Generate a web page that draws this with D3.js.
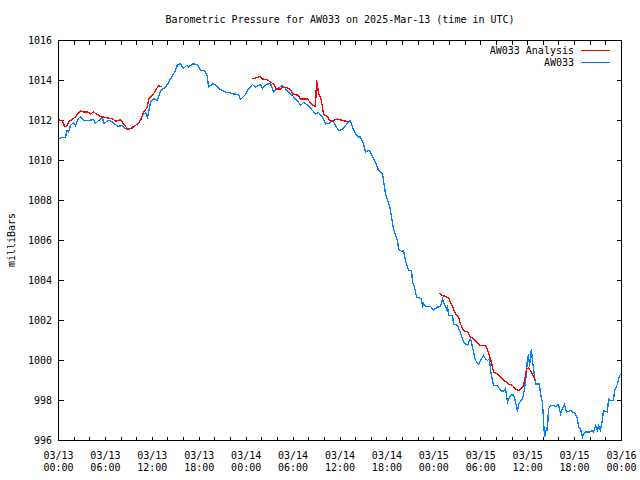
<!DOCTYPE html>
<html><head><meta charset="utf-8">
<script src="https://cdn.jsdelivr.net/npm/d3@7"></script>
<style>
body{margin:0;background:#fff}
svg{display:block}
text{font-family:"DejaVu Sans Mono",monospace;font-size:10px;fill:#000}
</style>
</head><body>
<svg id="chart" width="640" height="480"></svg>
<script>
const chartTitle = "Barometric Pressure for AW033 on 2025-Mar-13 (time in UTC)";
const yAxisLabel = "milliBars";
const seriesNames = ["AW033 Analysis", "AW033"];
const seriesColors = ["#ff0000", "#0080ff"];
const yTicks = [996, 998, 1000, 1002, 1004, 1006, 1008, 1010, 1012, 1014, 1016];
const xTickHours = [0, 6, 12, 18, 24, 30, 36, 42, 48, 54, 60, 66, 72];
const xTickDays = ["03/13","03/13","03/13","03/13","03/14","03/14","03/14","03/14","03/15","03/15","03/15","03/15","03/16"];
const xTickTimes = ["00:00","06:00","12:00","18:00","00:00","06:00","12:00","18:00","00:00","06:00","12:00","18:00","00:00"];

// hours since 2025-03-13 00:00 UTC
const stationHours = [0,0.26,0.9,1.11,1.28,1.53,1.92,2.17,2.56,2.81,
3.2,3.84,4.48,4.73,5.12,5.63,5.76,6.39,6.91,7.03,
7.67,8.06,8.57,8.82,9.21,9.59,10.23,10.74,11.13,11.38,
11.77,12.15,12.66,13.05,13.69,14.07,14.58,14.96,15.22,15.6,
15.99,16.37,16.63,17.14,17.78,18.16,18.67,19.06,19.18,19.7,
20.08,20.46,20.97,21.36,21.74,22.38,23.02,23.28,23.92,24.3,
24.81,25.19,25.83,26.09,26.47,27.11,27.5,28.01,28.65,29.03,
29.41,29.93,30.31,30.69,30.95,31.33,31.97,32.48,32.87,33.25,
33.76,34.15,34.53,35.04,35.43,35.81,36.32,36.71,37.09,37.34,
37.6,37.98,38.37,38.62,39.01,39.26,39.65,39.9,40.29,40.54,
40.93,41.44,41.57,41.82,42.08,42.33,42.59,42.84,43.1,43.36,
43.48,43.87,44.12,44.38,44.76,45.15,45.27,45.53,45.79,46.3,
46.43,46.56,46.68,46.94,47.58,47.96,48.47,48.86,49.11,49.24,
49.62,49.75,49.88,50.39,50.52,51.03,51.29,51.67,51.8,52.31,
52.44,52.7,52.95,53.08,53.33,53.72,53.97,54.36,54.61,54.87,
55.12,55.25,55.63,56.14,56.52,56.91,57.16,57.42,57.81,58.19,
58.45,58.7,58.83,59.34,59.6,59.85,59.98,60.11,60.24,60.36,
60.49,60.62,60.75,61.0,61.51,61.64,61.9,62.03,62.15,62.41,
62.53,62.66,62.92,63.3,63.56,63.94,64.2,64.45,64.71,64.97,
65.48,66.12,66.37,66.5,66.76,67.01,67.14,67.4,67.91,68.29,
68.42,68.68,68.93,69.06,69.31,69.57,69.7,70.21,70.34,70.59,
70.98,71.1,71.49,71.74,72];
const stationValues = [1011.1,1011.13,1011.17,1011.5,1011.42,1011.75,1011.9,1011.75,1012.1,1012.2,
1012.0,1012.0,1012.05,1011.85,1012.0,1012.15,1011.85,1012.0,1011.95,1011.85,
1011.7,1011.75,1011.6,1011.55,1011.6,1011.7,1011.85,1012.25,1012.4,1012.15,
1012.9,1013.1,1013.0,1013.5,1013.67,1013.9,1014.25,1014.5,1014.8,1014.83,
1014.6,1014.75,1014.67,1014.83,1014.8,1014.5,1014.5,1014.17,1013.67,1013.83,
1013.8,1013.6,1013.5,1013.42,1013.4,1013.33,1013.3,1013.05,1013.3,1013.58,
1013.8,1013.67,1013.8,1013.6,1013.8,1013.85,1013.42,1013.6,1013.75,1013.6,
1013.4,1013.25,1013.08,1012.92,1012.75,1012.9,1012.75,1012.5,1012.33,1012.4,
1012.17,1011.83,1011.85,1012.0,1011.75,1011.5,1011.55,1011.75,1011.92,1012.0,
1011.67,1011.33,1011.17,1011.17,1010.83,1010.42,1010.5,1010.42,1010.1,1009.92,
1009.5,1009.33,1009.0,1008.33,1008.0,1007.75,1007.17,1006.58,1006.25,1006.0,
1005.58,1005.45,1005.5,1005.0,1004.5,1004.5,1003.92,1003.67,1003.17,1003.1,
1003.08,1002.63,1002.87,1002.7,1002.7,1002.53,1002.67,1002.7,1003.08,1002.92,
1002.58,1002.75,1002.25,1002.25,1001.83,1001.75,1001.5,1001.08,1000.92,1000.75,
1000.9,1001.08,1000.67,1000.42,1000.0,999.83,1000.0,1000.25,1000.08,1000.0,
1000.1,999.5,998.75,998.75,998.5,998.45,998.6,997.92,998.25,998.3,
997.92,997.42,997.83,998.08,998.58,999.42,1000.17,1000.25,999.7,1000.3,
1000.58,999.9,999.6,998.83,998.83,998.33,997.9,997.0,996.17,996.6,
996.5,997.58,997.75,997.75,997.7,997.8,997.33,997.6,997.8,997.42,
997.5,997.33,997.1,996.67,996.58,996.17,996.3,996.42,996.42,996.5,
996.42,996.75,996.5,996.75,996.5,997.08,997.5,997.42,998.08,998.0,
998.0,998.5,998.83,999.25,999.33];

// analysis series, null = no analysis
const analysisHours = [0,0.51,0.77,1.02,1.28,1.79,2.17,2.43,2.81,3.2,3.71,4.09,4.48,4.99,5.37,6.27,6.91,7.29,7.93,8.31,8.82,9.46,10.1,10.49,10.87,11.38,11.51,12.02,12.41,12.79,13.17,
19,
24.81,25.19,25.71,26.09,26.73,27.11,27.5,27.88,28.39,28.65,29.29,29.67,29.93,30.31,30.69,30.95,31.84,32.23,32.61,32.87,33.0,33.12,33.25,33.51,33.76,33.89,34.4,34.79,35.17,35.68,36.06,36.71,37.09,
43,
48.73,49.11,49.49,49.88,50.13,50.52,50.77,51.16,51.41,51.8,52.31,52.7,53.08,53.59,53.97,54.61,54.87,55.25,55.51,55.63,56.14,56.52,56.91,57.55,58.06,58.45,58.83,59.08,59.47,59.6,59.85,60.11,60.49,60.75,61.0];
const analysisValues = [1012.03,1012.0,1011.7,1011.7,1011.92,1012.08,1012.17,1012.33,1012.47,1012.42,1012.43,1012.33,1012.42,1012.3,1012.2,1012.13,1012.08,1011.97,1012.03,1011.83,1011.58,1011.63,1011.83,1012.0,1012.42,1012.67,1013.08,1013.25,1013.5,1013.75,1013.67,
null,
1014.08,1014.13,1014.2,1014.08,1014.03,1013.92,1013.83,1013.58,1013.58,1013.67,1013.63,1013.53,1013.33,1013.3,1013.25,1013.08,1013.08,1012.87,1012.75,1012.7,1014.0,1013.83,1013.33,1013.17,1012.67,1012.33,1012.17,1011.97,1012.0,1012.08,1012.03,1011.97,1011.92,
null,
1003.37,1003.25,1003.2,1003.13,1002.92,1002.58,1002.33,1002.17,1001.83,1001.5,1001.42,1001.17,1001.08,1000.87,1000.75,1000.75,1000.53,1000.08,999.67,999.42,999.33,999.2,999.03,998.83,998.75,998.58,998.5,998.55,998.75,999.0,999.58,999.63,999.42,999.17,999.0];

const svg = d3.select("#chart");
const L = 58.5, R = 621.5, T = 40.5, B = 440.5;
const x = d3.scaleLinear().domain([0, 72]).range([L, R]);
const y = d3.scaleLinear().domain([996, 1016]).range([B, T]);

svg.append("defs").append("clipPath").attr("id", "plotclip")
  .append("rect").attr("x", L).attr("y", T - 1).attr("width", R - L).attr("height", B - T + 1);

// title
svg.append("text").attr("x", (L + R) / 2).attr("y", 23).attr("text-anchor", "middle").text(chartTitle);
// y label
svg.append("text").attr("transform", "translate(15,240) rotate(-90)").attr("text-anchor", "middle").text(yAxisLabel);

// ticks
const tickG = svg.append("g").attr("stroke", "#000").attr("stroke-width", 1).attr("shape-rendering", "crispEdges");
d3.range(0, 73, 2).forEach(h => {
  tickG.append("line").attr("x1", x(h)).attr("x2", x(h)).attr("y1", B).attr("y2", B - 4);
  tickG.append("line").attr("x1", x(h)).attr("x2", x(h)).attr("y1", T).attr("y2", T + 4);
});
yTicks.forEach(v => {
  tickG.append("line").attr("x1", L).attr("x2", L + 5).attr("y1", y(v)).attr("y2", y(v));
  tickG.append("line").attr("x1", R).attr("x2", R - 5).attr("y1", y(v)).attr("y2", y(v));
});

// y tick labels
svg.append("g").selectAll("text").data(yTicks).join("text")
  .attr("x", 52).attr("y", d => y(d)).attr("dy", "0.35em").attr("text-anchor", "end")
  .text(d => d);

// x tick labels
const xl = svg.append("g").selectAll("g").data(xTickHours).join("g");
xl.append("text").attr("x", d => x(d)).attr("y", 458.5).attr("text-anchor", "middle").text((d, i) => xTickDays[i]);
xl.append("text").attr("x", d => x(d)).attr("y", 470.5).attr("text-anchor", "middle").text((d, i) => xTickTimes[i]);

// lines
const line = d3.line().defined(d => d[1] !== null).x(d => x(d[0])).y(d => y(d[1]));
const plot = svg.append("g").attr("clip-path", "url(#plotclip)");
plot.append("path").datum(d3.zip(stationHours, stationValues))
  .attr("fill", "none").attr("stroke", seriesColors[1]).attr("stroke-width", 1.3)
  .attr("shape-rendering", "crispEdges").attr("d", line);
plot.append("path").datum(d3.zip(analysisHours, analysisValues))
  .attr("fill", "none").attr("stroke", seriesColors[0]).attr("stroke-width", 1.3)
  .attr("shape-rendering", "crispEdges").attr("d", line);

// frame
svg.append("rect").attr("x", L).attr("y", T).attr("width", R - L).attr("height", B - T)
  .attr("fill", "none").attr("stroke", "#000").attr("shape-rendering", "crispEdges");

// legend
const leg = svg.append("g").selectAll("g").data(seriesNames).join("g");
leg.append("text").attr("x", 574).attr("y", (d, i) => 50 + i * 12).attr("dy", "0.35em").attr("text-anchor", "end").text(d => d);
leg.append("line").attr("x1", 581).attr("x2", 610).attr("y1", (d, i) => 50.5 + i * 12).attr("y2", (d, i) => 50.5 + i * 12)
  .attr("stroke", (d, i) => seriesColors[i]).attr("shape-rendering", "crispEdges");
</script>
</body></html>
